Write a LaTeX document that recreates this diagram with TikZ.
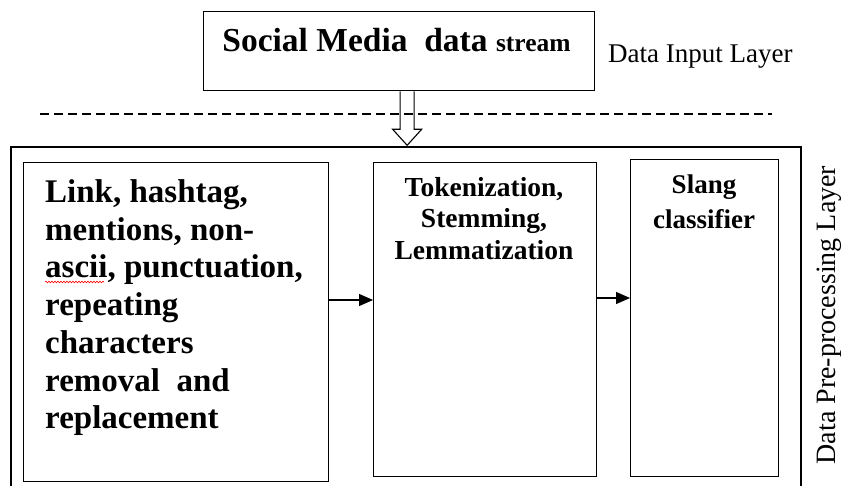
\documentclass[tikz,border=0pt]{standalone}
\usepackage{fontspec}
\setmainfont{Liberation Serif}
\usetikzlibrary{arrows.meta,decorations.pathmorphing}
\begin{document}
\begin{tikzpicture}[x=1pt,y=-1pt,
  box/.style={draw, line width=1.3pt, rectangle, inner sep=0pt},
  conn/.style={line width=1.3pt, -{Triangle[length=14pt,width=12pt]}},
  lbl/.style={inner sep=0pt, font=\fontsize{27}{32}\selectfont}]
\useasboundingbox (0,0) rectangle (845,486);
% top box
\node[box, minimum width=391pt, minimum height=79pt, anchor=north west] (top) at (203,11) {};
\node[inner sep=0pt, anchor=base] (toptext) at (396.5,52)
  {\bfseries\fontsize{33.5}{40}\selectfont Social Media\ \ data {\fontsize{25.5}{30}\selectfont stream}};
\node[lbl, anchor=base west] (inlayer) at (608,63) {Data Input Layer};
% dashed separator
\draw[line width=1.3pt, dash pattern=on 9pt off 5pt] (40,114) -- (772,114);
% outer layer box (open at bottom)
\draw[line width=1.1pt] (11,486) coordinate (obl) -- (11,147) coordinate (otl) -- (801,147) coordinate (otr) -- (801,486) coordinate (obr);
% hollow arrow
\draw[line width=1.1pt, line join=miter]
  ([xshift=1pt]top.south) -- ++(0,38) -- ++(-7.5,0) -- ++(14.5,16) coordinate (tip) -- ++(14.5,-16) -- ++(-7.5,0) -- ([xshift=15pt]top.south);
% inner boxes
\node[box, minimum width=305pt, minimum height=319pt, anchor=north west] (b1) at (23,162) {};
\node[box, minimum width=223pt, minimum height=314pt, anchor=north west] (b2) at (373,162) {};
\node[box, minimum width=148pt, minimum height=317pt, anchor=north west] (b3) at (630,159) {};
% texts
\node[inner sep=0pt, anchor=north west, align=left,
  font=\bfseries\fontsize{33}{37.7}\selectfont] (t1) at (45,179.5)
  {Link, hashtag,\\mentions, non-\\ascii, punctuation,\\repeating\\characters\\removal\ \ and\\replacement};
\draw[red, line width=0.6pt, decorate, decoration={snake, amplitude=0.8pt, segment length=3pt}]
  (45,282) -- (104,282);
\node[inner sep=0pt, anchor=north, align=center,
  font=\bfseries\fontsize{27.5}{31.5}\selectfont] (t2) at (484,177)
  {Tokenization,\\Stemming,\\Lemmatization};
\node[inner sep=0pt, anchor=north, align=center,
  font=\bfseries\fontsize{27}{35}\selectfont] (t3) at (704,175)
  {Slang\\classifier};
\node[lbl, rotate=90, font=\fontsize{28}{32}\selectfont] (pplayer) at (829,315) {Data Pre-processing Layer};
% connectors
\coordinate (ay1) at (0,300);
\coordinate (ay2) at (0,298);
\draw[conn] (b1.east |- ay1) -- (b2.west |- ay1);
\draw[conn] (b2.east |- ay2) -- (b3.west |- ay2);
\end{tikzpicture}
\end{document}
